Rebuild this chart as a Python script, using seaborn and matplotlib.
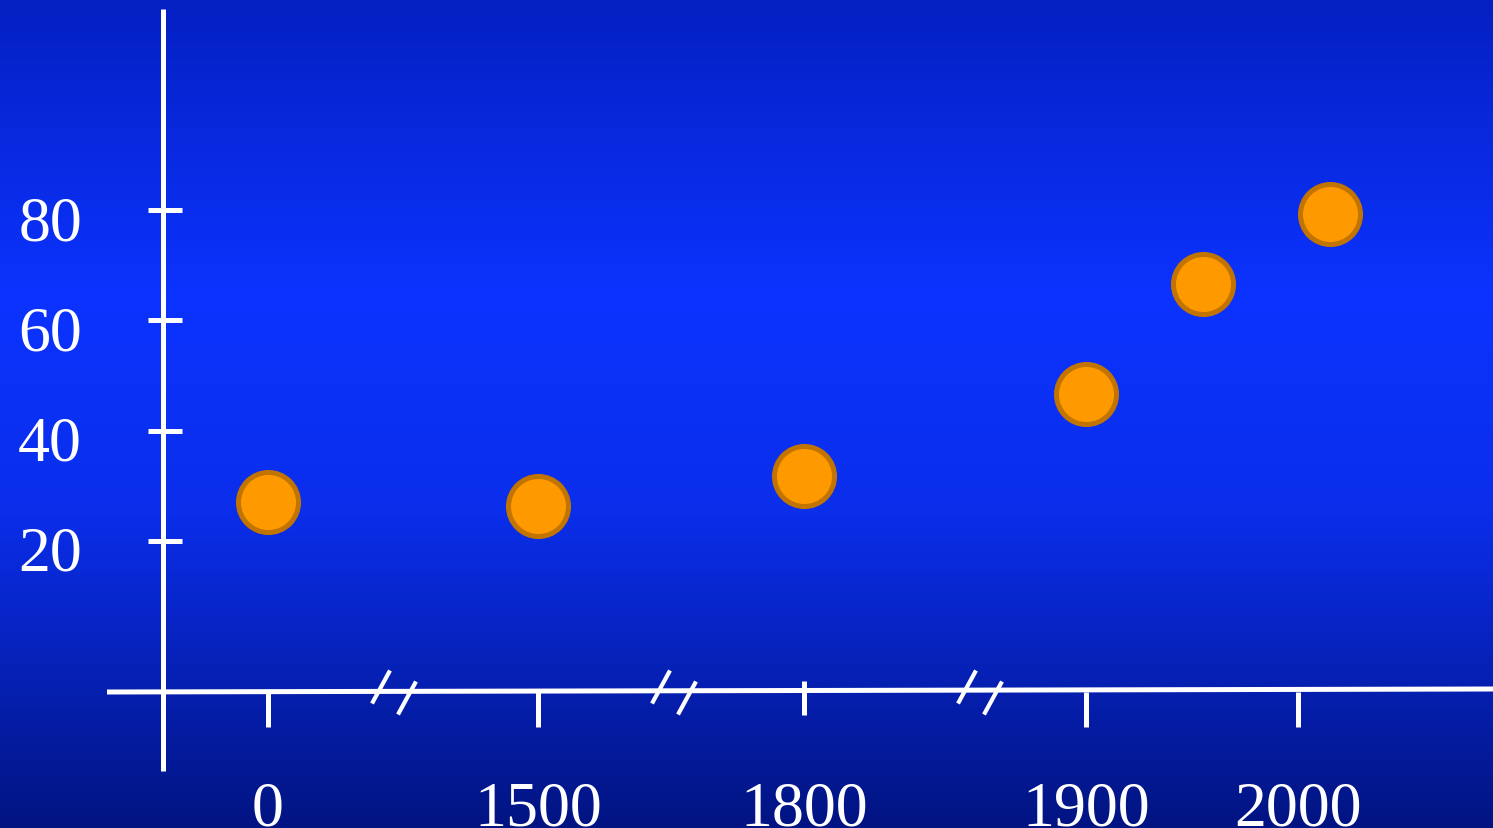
import numpy as np
import matplotlib
matplotlib.use("Agg")
import matplotlib.pyplot as plt
import matplotlib.transforms as mtransforms
from matplotlib.colors import LinearSegmentedColormap
import seaborn as sns

# ---- data ----
years = [0, 1500, 1800, 1900, 1955, 2015]
life_expectancy = [27.0, 26.3, 31.8, 46.6, 66.6, 79.3]
x_tick_years = [0, 1500, 1800, 1900, 2000]
x_tick_labels = ["0", "1500", "1800", "1900", "2000"]
y_ticks = [20, 40, 60, 80]
y_tick_labels = ["20", "40", "60", "80"]

# ---- layout ----
W, H, DPI = 1493, 829, 100
Y_BOTTOM, Y_TOP = -32.1, 118.3

# broken time axis: every era gets its own stretch of the axis
seg_years = np.array([-1500, 0, 1500, 1800, 1900, 2000, 2100], dtype=float)
seg_pos = np.array([-2, 268, 538, 804, 1086, 1298, 1510], dtype=float)


def _piecewise(v, xs, ys):
    v = np.asarray(v, dtype=float)
    out = np.interp(v, xs, ys)
    lo_slope = (ys[1] - ys[0]) / (xs[1] - xs[0])
    hi_slope = (ys[-1] - ys[-2]) / (xs[-1] - xs[-2])
    out = np.where(v < xs[0], ys[0] + (v - xs[0]) * lo_slope, out)
    out = np.where(v > xs[-1], ys[-1] + (v - xs[-1]) * hi_slope, out)
    return out


def year_to_pos(v):
    return _piecewise(v, seg_years, seg_pos)


def pos_to_year(p):
    return _piecewise(p, seg_pos, seg_years)


sns.set_style("white")
plt.rcParams["font.family"] = ["Liberation Serif", "DejaVu Serif"]

fig = plt.figure(figsize=(W / DPI, H / DPI), dpi=DPI)

# blue backdrop, brightest a third of the way down
bg = fig.add_axes([0, 0, 1, 1])
cmap = LinearSegmentedColormap.from_list(
    "backdrop",
    [(0.0, "#0420C2"), (0.36, "#0C33FF"), (0.62, "#0A2EEA"), (1.0, "#021482")],
)
grad = np.linspace(0, 1, 512).reshape(-1, 1)
bg.imshow(grad, aspect="auto", cmap=cmap, extent=[0, 1, 0, 1], origin="upper")
bg.set_axis_off()

ax = fig.add_axes([0, 0, 1, 1])
ax.patch.set_alpha(0)
ax.set_xscale("function", functions=(year_to_pos, pos_to_year))

sns.scatterplot(
    x=years, y=life_expectancy, ax=ax, s=1870,
    color="#FF9900", edgecolor="#C27400", linewidth=3.6,
    zorder=5, legend=False,
)
ax.set_xlim(pos_to_year(0.0), pos_to_year(float(W)))
ax.set_ylim(Y_BOTTOM, Y_TOP)
ax.set_axis_off()

WHITE = "white"
LW = 3.6


def fx(px):
    return px / W


def fy(py):
    return 1 - py / H


# axis lines
ax.plot([fx(163), fx(163)], [fy(10), fy(772)], transform=ax.transAxes,
        color=WHITE, lw=LW, solid_capstyle="butt", zorder=3)
ax.plot([fx(107), fx(W)], [fy(693), fy(690)], transform=ax.transAxes,
        color=WHITE, lw=LW, solid_capstyle="butt", zorder=3)

# y ticks and labels
ytrans = mtransforms.blended_transform_factory(ax.transAxes, ax.transData)
for v, lab in zip(y_ticks, y_tick_labels):
    ax.plot([fx(148), fx(182)], [v, v], transform=ytrans,
            color=WHITE, lw=LW, solid_capstyle="butt", zorder=3)
    ax.text(fx(50), v, lab, transform=mtransforms.offset_copy(
                ytrans, fig=fig, x=0, y=-29, units="dots"),
            ha="center", va="baseline", color=WHITE, fontsize=46)

# x ticks and labels
xtrans = mtransforms.blended_transform_factory(ax.transData, ax.transAxes)
for yr, lab in zip(x_tick_years, x_tick_labels):
    if yr == 1800:
        top, bot = 682, 716
    else:
        top, bot = 693, 728
    ax.plot([yr, yr], [fy(top), fy(bot)], transform=xtrans,
            color=WHITE, lw=LW, solid_capstyle="butt", zorder=3)
    ax.text(yr, fy(826), lab, transform=xtrans, ha="center", va="baseline",
            color=WHITE, fontsize=46)

# axis break marks (//)
for cx in (381, 661, 967):
    for dx, dy in ((0, -2), (26, 9)):
        x0, y0 = cx + dx, 690 + dy
        ax.plot([fx(x0 - 9), fx(x0 + 9)], [fy(y0 + 16.5), fy(y0 - 16.5)],
                transform=ax.transAxes, color=WHITE, lw=3.0,
                solid_capstyle="butt", zorder=4)

fig.savefig("out.png", dpi=DPI)
